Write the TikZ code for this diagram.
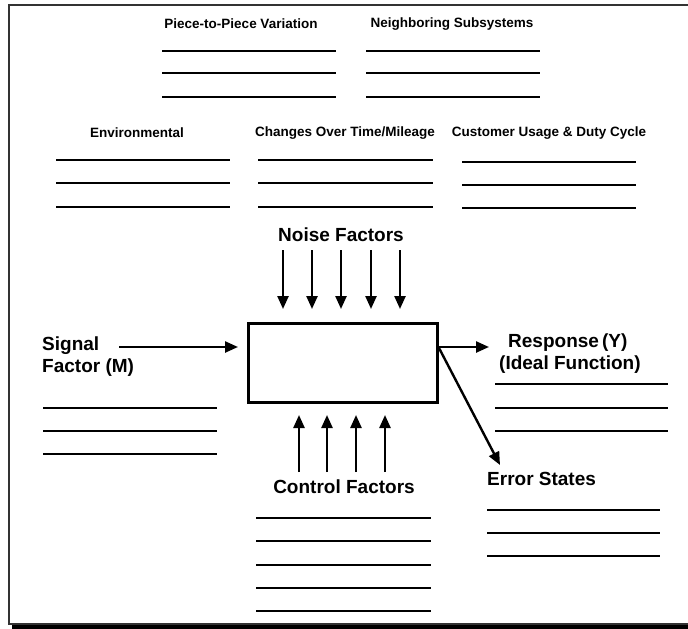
\documentclass[tikz,border=0pt]{standalone}
\usepackage{fontspec}
\setmainfont{Liberation Sans}
\usetikzlibrary{arrows.meta}
\begin{document}
\begin{tikzpicture}[x=1pt,y=-1pt,
  small/.style={font=\fontsize{13.5}{15}\selectfont\bfseries, inner sep=0pt},
  big/.style={font=\fontsize{19}{22}\selectfont\bfseries, inner sep=0pt},
  blank/.style={line width=2.5pt},
  arr/.style={line width=2.4pt,-{Triangle[length=13pt,width=11pt]}}]
\useasboundingbox (0,0) rectangle (688,629);
% frame
\draw[line width=1.5pt, draw=black!80] (688,5) -- (9,5) -- (9,624) -- (688,624);
\fill[black] (12,625) rectangle (688,629);
% row 1
\node[small] (ppv) at (241,24) {Piece-to-Piece Variation};
\node[small] (nbs) at (452,24) {Neighboring Subsystems};
\foreach \y in {51,73,97}{
  \draw[blank] (162,\y) -- (336,\y);
  \draw[blank] (366,\y) -- (540,\y);
}
% row 2
\node[small] (env) at (137,133) {Environmental};
\node[small] (cot) at (345,133) {Changes Over Time/Mileage};
\node[small] (cud) at (549,133) {Customer Usage \& Duty Cycle};
\foreach \y in {160,183,207}{
  \draw[blank] (56,\y) -- (230,\y);
  \draw[blank] (258,\y) -- (433,\y);
}
\foreach \y in {162,185,208}{
  \draw[blank] (462,\y) -- (636,\y);
}
% system box
\node[draw, line width=3pt, minimum width=189pt, minimum height=79pt, inner sep=0pt] (sys) at (342.5,362.5) {};
% noise
\node[big] (noise) at (341,235) {Noise Factors};
\foreach \x [count=\i] in {283,312,341,371,400}{
  \coordinate (n\i) at (\x,250);
  \draw[arr] (n\i) -- (\x,309);
}
% control
\node[big] (ctrl) at (344,487) {Control Factors};
\foreach \x [count=\i] in {299,327,356,385}{
  \coordinate (c\i) at (\x,472);
  \draw[arr] (c\i) -- (\x,415);
}
\foreach \y in {518,541,565,588,611}{
  \draw[blank] (256,\y) -- (431,\y);
}
% signal
\node[big, anchor=west] (sig1) at (42,346) {Signal};
\node[big, anchor=west] (sig2) at (42,368) {Factor (M)};
\coordinate (sigs) at (119,347);
\draw[arr] (sigs) -- (238,347);
\foreach \y in {408,431,454}{
  \draw[blank] (43,\y) -- (217,\y);
}
% response
\coordinate (rs) at (sys.east |- 0,347);
\coordinate (re) at (489,347);
\draw[arr] (rs) -- (re);
\node[big, anchor=west] (resp1) at (508,343) {Response\,(Y)};
\node[big, anchor=west] (resp2) at (499,365) {(Ideal Function)};
\foreach \y in {384,408,431}{
  \draw[blank] (495,\y) -- (668,\y);
}
% error
\coordinate (es) at (439,348);
\coordinate (ee) at (500,465);
\draw[arr] (es) -- (ee);
\node[big, anchor=west] (err) at (487,479) {Error States};
\foreach \y in {510,533,556}{
  \draw[blank] (487,\y) -- (660,\y);
}
\end{tikzpicture}
\end{document}
